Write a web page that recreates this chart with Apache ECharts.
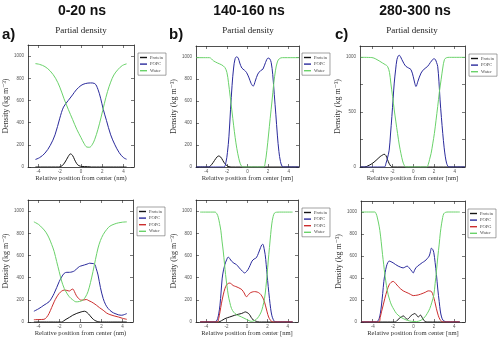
<!DOCTYPE html>
<html>
<head>
<meta charset="utf-8">
<script src="https://cdn.jsdelivr.net/npm/echarts@6/dist/echarts.min.js"></script>
<style>
  html, body { margin: 0; padding: 0; background: #fff; }
  #chart { width: 500px; height: 339px; }
</style>
</head>
<body>
<div id="chart"></div>
<script>
// Partial density profiles (kg m^-3) vs. relative position from the centre (nm)
// Time windows: 0-20 ns, 140-160 ns, 280-300 ns; top row = protein + POPC + water,
// bottom row = protein + POPC + POPG + water.

const timeWindows = ['0-20 ns', '140-160 ns', '280-300 ns'];
const panelTags = ['a)', 'b)', 'c)'];
const xTicks = [-4, -2, 0, 2, 4];
const yTicks = [0, 200, 400, 600, 800, 1000];
const yTicksWide = [0, 500, 1000];

// ---- 0-20 ns, POPC ----
const a1Protein = [[-4.3,0],[-2.1,0],[-1.8,10],[-1.5,45],[-1.2,95],[-1.0,118],[-0.8,105],[-0.6,65],[-0.4,30],[-0.2,12],[0.1,5],[0.6,3],[1.0,0],[4.3,0]];
const a1Popc = [[-4.3,68],[-3.9,85],[-3.4,125],[-2.9,195],[-2.45,290],[-2.0,440],[-1.65,540],[-1.2,600],[-0.8,650],[-0.45,695],[0,735],[0.4,752],[0.9,758],[1.3,752],[1.6,700],[1.85,620],[2.1,520],[2.4,420],[2.8,290],[3.2,200],[3.6,130],[4.0,85],[4.3,70]];
const a1Water = [[-4.3,932],[-3.9,925],[-3.4,905],[-2.9,865],[-2.4,800],[-2.0,720],[-1.6,615],[-1.2,520],[-0.8,430],[-0.4,340],[0,265],[0.3,210],[0.55,180],[0.8,178],[1.05,200],[1.3,250],[1.6,340],[1.9,450],[2.2,570],[2.5,680],[2.8,765],[3.1,830],[3.5,880],[3.9,915],[4.3,930]];

// ---- 140-160 ns, POPC ----
const b1Protein = [[-5,0],[-3.8,0],[-3.5,20],[-3.2,60],[-2.95,92],[-2.8,100],[-2.6,90],[-2.4,60],[-2.2,30],[-2.0,12],[-1.8,3],[-1.6,0],[5,0]];
const b1Popc = [[-5,0],[-2.3,0],[-2.1,40],[-1.95,130],[-1.8,280],[-1.65,520],[-1.5,740],[-1.35,900],[-1.2,985],[-1.05,1002],[-0.9,990],[-0.75,945],[-0.55,900],[-0.3,880],[-0.1,860],[0.15,810],[0.35,760],[0.55,735],[0.75,780],[1.0,845],[1.3,878],[1.5,890],[1.75,950],[2.0,990],[2.15,985],[2.3,950],[2.45,840],[2.6,660],[2.75,480],[2.9,290],[3.05,140],[3.2,50],[3.35,8],[3.5,0],[5,0]];
const b1Water = [[-5,994],[-3.7,994],[-3.3,965],[-2.9,945],[-2.5,928],[-2.2,905],[-2.0,860],[-1.85,770],[-1.68,640],[-1.5,500],[-1.35,380],[-1.2,270],[-1.04,170],[-0.85,80],[-0.7,30],[-0.55,5],[-0.4,0],[1.55,0],[1.7,30],[1.88,150],[2.05,300],[2.2,440],[2.38,600],[2.55,760],[2.72,880],[2.9,955],[3.1,985],[3.4,994],[5,994]];

// ---- 280-300 ns, POPC ----
const c1Protein = [[-5.1,0],[-4.7,0],[-4.4,10],[-4.0,30],[-3.6,60],[-3.2,95],[-2.95,110],[-2.82,116],[-2.65,105],[-2.5,70],[-2.35,35],[-2.17,8],[-2.0,0],[5,0]];
const c1Popc = [[-5.1,0],[-2.8,0],[-2.65,30],[-2.5,80],[-2.33,153],[-2.2,300],[-2.07,458],[-1.95,620],[-1.84,763],[-1.7,890],[-1.58,976],[-1.45,1010],[-1.36,1016],[-1.22,1000],[-1.1,976],[-0.9,940],[-0.71,915],[-0.45,900],[-0.22,885],[0.0,820],[0.15,760],[0.26,732],[0.45,780],[0.75,854],[1.05,890],[1.39,915],[1.65,950],[1.87,976],[2.0,985],[2.14,976],[2.25,950],[2.36,915],[2.48,780],[2.59,610],[2.72,450],[2.85,305],[2.98,180],[3.1,92],[3.22,35],[3.33,10],[3.45,0],[5,0]];
const c1Water = [[-5.1,997],[-4,995],[-3.62,982],[-3.3,965],[-2.98,946],[-2.7,930],[-2.49,915],[-2.3,860],[-2.17,763],[-2.0,640],[-1.84,519],[-1.68,410],[-1.52,305],[-1.35,200],[-1.19,122],[-1.03,55],[-0.87,15],[-0.7,0],[1.3,0],[1.45,25],[1.58,70],[1.72,122],[1.88,210],[2.04,305],[2.2,425],[2.36,549],[2.52,680],[2.69,793],[2.85,900],[3.01,976],[3.2,993],[3.5,997],[5,997]];

// ---- 0-20 ns, POPC/POPG ----
const a2Protein = [[-4.44,0],[-1.8,0],[-1.6,10],[-1.38,24],[-1.05,42],[-0.74,61],[-0.35,78],[0.06,91],[0.39,97],[0.63,85],[0.87,61],[1.1,35],[1.35,15],[1.6,5],[1.9,0],[4.41,0]];
const a2Popc = [[-4.44,97],[-3.96,121],[-3.48,152],[-3.0,182],[-2.75,215],[-2.51,258],[-2.27,310],[-2.03,364],[-1.8,405],[-1.55,439],[-1.3,448],[-1.06,448],[-0.8,452],[-0.58,461],[-0.35,480],[-0.1,500],[0.15,508],[0.39,515],[0.63,522],[0.87,530],[1.1,528],[1.35,521],[1.5,480],[1.67,424],[1.9,310],[2.16,212],[2.4,155],[2.64,121],[3.0,90],[3.29,76],[3.6,65],[3.93,61],[4.2,68],[4.41,76]];
const a2Popg = [[-4.44,21],[-4.0,22],[-3.48,24],[-3.25,40],[-3.0,76],[-2.75,130],[-2.51,182],[-2.27,225],[-2.03,258],[-1.8,278],[-1.55,288],[-1.3,285],[-1.06,279],[-0.9,290],[-0.74,297],[-0.58,275],[-0.42,242],[-0.18,212],[0.06,197],[0.3,198],[0.55,203],[0.8,192],[1.03,182],[1.27,168],[1.51,152],[1.8,130],[2.16,106],[2.5,80],[2.8,67],[3.2,55],[3.61,45],[4.0,33],[4.41,24]];
const a2Water = [[-4.44,903],[-4.0,880],[-3.64,848],[-3.3,810],[-3.0,758],[-2.75,700],[-2.51,636],[-2.27,545],[-2.03,455],[-1.8,370],[-1.55,303],[-1.3,260],[-1.06,227],[-0.74,200],[-0.42,182],[-0.1,185],[0.22,197],[0.47,225],[0.71,273],[0.95,355],[1.19,455],[1.43,565],[1.67,667],[1.9,735],[2.16,788],[2.5,835],[2.8,864],[3.2,882],[3.61,894],[4.0,900],[4.41,903]];

// ---- 140-160 ns, POPC/POPG ----
const b2Protein = [[-4.6,0],[-2.8,0],[-2.5,12],[-2.17,30],[-1.7,45],[-1.2,61],[-0.85,70],[-0.55,76],[-0.35,84],[-0.16,91],[0.0,85],[0.16,76],[0.33,55],[0.49,30],[0.7,14],[0.91,6],[1.2,0],[4.47,0]];
const b2Popc = [[-4.6,0],[-3.14,0],[-3.0,8],[-2.88,30],[-2.76,80],[-2.65,152],[-2.54,270],[-2.43,396],[-2.3,470],[-2.17,518],[-2.0,560],[-1.84,585],[-1.68,570],[-1.52,549],[-1.28,530],[-1.04,518],[-0.82,495],[-0.61,473],[-0.42,455],[-0.23,442],[-0.05,455],[0.1,473],[0.3,510],[0.49,549],[0.7,568],[0.91,579],[1.12,620],[1.33,671],[1.45,695],[1.55,701],[1.67,665],[1.78,610],[1.88,520],[1.97,427],[2.08,320],[2.2,213],[2.32,120],[2.43,61],[2.56,25],[2.69,6],[2.85,0],[4.47,0]];
const b2Popg = [[-4.6,0],[-2.9,0],[-2.78,30],[-2.65,91],[-2.5,170],[-2.33,244],[-2.17,300],[-2.0,335],[-1.84,348],[-1.68,351],[-1.52,342],[-1.36,329],[-1.1,320],[-0.87,311],[-0.68,302],[-0.49,290],[-0.28,262],[-0.06,229],[0.1,240],[0.26,259],[0.5,270],[0.74,274],[1.0,270],[1.23,259],[1.45,235],[1.65,198],[1.82,145],[1.97,91],[2.12,45],[2.3,15],[2.45,3],[2.6,0],[4.47,0]];
const b2Water = [[-4.6,991],[-3.14,991],[-2.95,975],[-2.82,945],[-2.69,890],[-2.56,823],[-2.45,730],[-2.33,640],[-2.2,520],[-2.1,427],[-1.97,330],[-1.84,244],[-1.68,175],[-1.52,122],[-1.3,88],[-1.04,67],[-0.8,56],[-0.55,46],[-0.3,35],[-0.06,24],[0.2,12],[0.42,6],[0.65,10],[0.91,24],[1.15,50],[1.39,91],[1.55,140],[1.72,213],[1.85,310],[1.97,427],[2.08,550],[2.2,671],[2.32,790],[2.43,884],[2.56,950],[2.69,982],[2.9,990],[3.17,991],[4.47,991]];

// ---- 280-300 ns, POPC/POPG ----
const c2Protein = [[-5.1,0],[-1.8,0],[-1.6,15],[-1.34,37],[-1.15,48],[-1.01,55],[-0.8,40],[-0.62,25],[-0.4,40],[-0.2,62],[0.0,72],[0.13,77],[0.3,62],[0.46,46],[0.58,55],[0.69,62],[0.85,40],[1.01,15],[1.2,3],[1.4,0],[4.54,0]];
const c2Popc = [[-5.1,0],[-3.63,0],[-3.5,10],[-3.37,31],[-3.25,80],[-3.14,154],[-3.02,260],[-2.91,369],[-2.78,450],[-2.65,508],[-2.52,540],[-2.39,554],[-2.2,548],[-2.0,538],[-1.75,522],[-1.5,508],[-1.25,498],[-1.01,492],[-0.82,500],[-0.62,508],[-0.45,495],[-0.29,477],[-0.15,460],[-0.03,446],[0.1,470],[0.23,492],[0.42,510],[0.62,523],[0.86,540],[1.11,554],[1.33,575],[1.54,600],[1.66,640],[1.76,671],[1.88,660],[1.99,631],[2.12,540],[2.25,431],[2.38,300],[2.52,185],[2.63,100],[2.75,46],[2.9,15],[3.07,6],[3.25,0],[4.54,0]];
const c2Popg = [[-5.1,0],[-3.4,0],[-3.27,40],[-3.14,92],[-2.97,155],[-2.81,215],[-2.6,285],[-2.39,338],[-2.2,360],[-2.0,369],[-1.75,350],[-1.5,323],[-1.25,300],[-1.01,283],[-0.76,272],[-0.52,262],[-0.27,250],[-0.03,240],[0.22,242],[0.46,246],[0.7,253],[0.95,262],[1.2,272],[1.44,283],[1.6,282],[1.76,277],[1.93,240],[2.09,185],[2.25,120],[2.42,62],[2.58,25],[2.75,6],[2.9,0],[4.54,0]];
const c2Water = [[-5.1,1000],[-3.79,1000],[-3.67,985],[-3.56,954],[-3.43,900],[-3.3,831],[-3.17,730],[-3.04,615],[-2.92,520],[-2.81,431],[-2.65,330],[-2.48,246],[-2.32,195],[-2.16,154],[-1.9,110],[-1.67,77],[-1.35,50],[-1.01,31],[-0.6,15],[-0.2,6],[0.15,4],[0.46,6],[0.8,20],[1.11,46],[1.35,78],[1.6,123],[1.8,180],[1.99,246],[2.12,350],[2.25,462],[2.38,590],[2.52,708],[2.63,810],[2.75,892],[2.86,950],[2.97,985],[3.15,997],[3.4,1000],[4.54,1000]];

// ---------------------------------------------------------------------------
const COLORS = { Protein: '#151515', POPC: '#2a2a9c', POPG: '#cc2e2e', Water: '#6ad26a' };
const SERIF = '"Liberation Serif", "DejaVu Serif", serif';
const SANS = '"Liberation Sans", Arial, sans-serif';

const panels = [
  { box: { left: 28,  top: 45,  width: 106, height: 122 }, x: [-5, 5],     yl: yTicks,     yt: yTicks,
    xName: 'Relative position from center (nm)', legend: { left: 138, top: 53 },
    lines: [['Protein', a1Protein], ['POPC', a1Popc], ['Water', a1Water]] },
  { box: { left: 196, top: 46,  width: 103, height: 121 }, x: [-5, 5],     yl: yTicks,     yt: yTicks,
    xName: 'Relative position from center [nm]', legend: { left: 302, top: 53 },
    lines: [['Protein', b1Protein], ['POPC', b1Popc], ['Water', b1Water]] },
  { box: { left: 360, top: 46,  width: 105, height: 121 }, x: [-5.15, 5.0], yl: yTicksWide, yt: [0, 250, 500, 750, 1000],
    xName: 'Relative position from center [nm]', legend: { left: 469, top: 54 },
    lines: [['Protein', c1Protein], ['POPC', c1Popc], ['Water', c1Water]] },
  { box: { left: 28,  top: 200, width: 105, height: 122 }, x: [-5, 5],     yl: yTicks,     yt: yTicks,
    xName: 'Relative position from center (nm)', legend: { left: 137, top: 207 },
    lines: [['Protein', a2Protein], ['POPC', a2Popc], ['POPG', a2Popg], ['Water', a2Water]] },
  { box: { left: 196, top: 200, width: 102, height: 122 }, x: [-5, 5],     yl: yTicks,     yt: yTicks,
    xName: 'Relative position from center [nm]', legend: { left: 302, top: 208 },
    lines: [['Protein', b2Protein], ['POPC', b2Popc], ['POPG', b2Popg], ['Water', b2Water]] },
  { box: { left: 361, top: 201, width: 104, height: 121 }, x: [-5.15, 5.05], yl: yTicks,   yt: yTicks,
    xName: 'Relative position from center [nm]', legend: { left: 468, top: 209 },
    lines: [['Protein', c2Protein], ['POPC', c2Popc], ['POPG', c2Popg], ['Water', c2Water]] }
];

// frame lines stay on the plot edges, never on the zero crossing
const axisLine = { show: true, onZero: false, lineStyle: { color: '#222', width: 0.8 } };
const tickStyle = { color: '#222', width: 0.6 };
const plain = v => String(v);
const grid = [], xAxis = [], yAxis = [], series = [], legend = [];

panels.forEach((p, i) => {
  grid.push(Object.assign({ containLabel: false }, p.box));
  const xi = xAxis.length, yi = yAxis.length;
  // bottom axis with labels + mirrored top axis with ticks only
  xAxis.push({
    type: 'value', gridIndex: i, min: p.x[0], max: p.x[1], position: 'bottom',
    axisLine, splitLine: { show: false },
    axisTick: { inside: true, length: 3, customValues: xTicks, lineStyle: tickStyle },
    axisLabel: { customValues: xTicks, formatter: plain, fontSize: 4.5, color: '#555', margin: 2, fontFamily: SANS },
    name: p.xName, nameLocation: 'middle', nameGap: 7,
    nameTextStyle: { fontSize: 6.6, fontFamily: SERIF, color: '#333' }
  });
  xAxis.push({
    type: 'value', gridIndex: i, min: p.x[0], max: p.x[1], position: 'top',
    axisLine, splitLine: { show: false }, axisLabel: { show: false },
    axisTick: { inside: true, length: 3, customValues: xTicks, lineStyle: tickStyle }
  });
  yAxis.push({
    type: 'value', gridIndex: i, min: 0, max: 1100, position: 'left',
    axisLine, splitLine: { show: false },
    axisTick: { inside: true, length: 3, customValues: p.yt, lineStyle: tickStyle },
    axisLabel: { customValues: p.yl, formatter: plain, fontSize: 4.5, color: '#555', margin: 4, fontFamily: SANS },
    name: 'Density (kg m⁻³)', nameLocation: 'middle', nameGap: 14,
    nameTextStyle: { fontSize: 8, fontFamily: SERIF, color: '#333' }
  });
  yAxis.push({
    type: 'value', gridIndex: i, min: 0, max: 1100, position: 'right',
    axisLine, splitLine: { show: false }, axisLabel: { show: false },
    axisTick: { inside: true, length: 3, customValues: p.yt, lineStyle: tickStyle }
  });

  p.lines.forEach(([name, data]) => {
    series.push({
      type: 'line', name, data, xAxisIndex: xi, yAxisIndex: yi,
      showSymbol: false, smooth: 0.35, silent: true,
      itemStyle: { color: COLORS[name] },
      lineStyle: { color: COLORS[name], width: 1 }
    });
  });

  legend.push({
    data: p.lines.map(l => l[0]), left: p.legend.left, top: p.legend.top,
    orient: 'vertical', icon: 'rect', itemWidth: 7, itemHeight: 1.4, itemGap: 1.6,
    padding: [2, 3, 2, 2], borderColor: '#666', borderWidth: 0.6, backgroundColor: '#fff',
    textStyle: { fontSize: 4.5, fontFamily: SERIF, color: '#444', padding: [0, 0, 0, -2] },
    selectedMode: false
  });
});

// headings, panel tags and plot titles
const centers = [81, 248, 412];
const titleX = [82, 249, 415];
const graphic = [];
timeWindows.forEach((t, i) => {
  graphic.push({ type: 'text', x: titleX[i], y: 11,
    style: { text: t, font: 'bold 14px ' + SANS, fill: '#111', align: 'center', verticalAlign: 'middle' } });
  graphic.push({ type: 'text', x: centers[i], y: 31,
    style: { text: 'Partial density', font: '9px ' + SERIF, fill: '#222', align: 'center', verticalAlign: 'middle' } });
});
[2, 169, 335].forEach((x, i) => {
  graphic.push({ type: 'text', x, y: 35,
    style: { text: panelTags[i], font: 'bold 15px ' + SANS, fill: '#111', align: 'left', verticalAlign: 'middle' } });
});

const chart = echarts.init(document.getElementById('chart'), null, { renderer: 'canvas' });
chart.setOption({
  backgroundColor: '#fff',
  animation: false,
  grid, xAxis, yAxis, series, legend, graphic
});
</script>
</body>
</html>
